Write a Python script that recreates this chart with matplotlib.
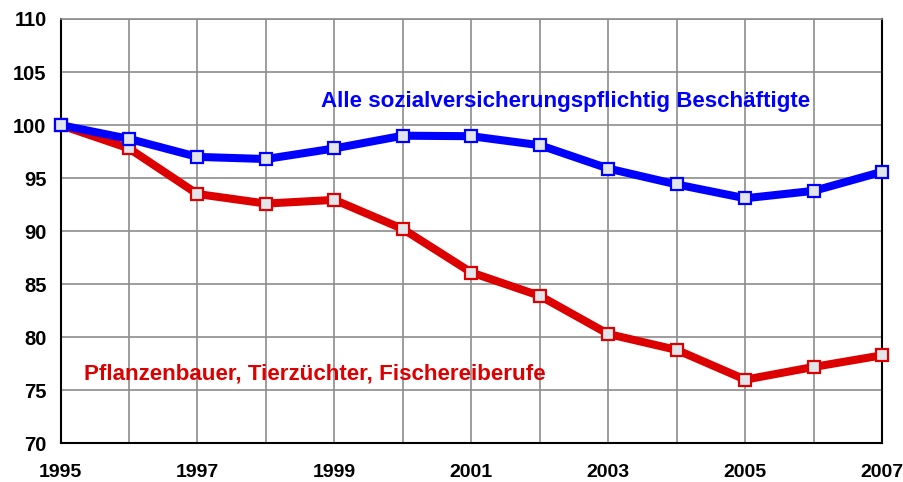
import matplotlib
matplotlib.use("Agg")
import matplotlib.pyplot as plt

years = [1995, 1996, 1997, 1998, 1999, 2000, 2001, 2002, 2003, 2004, 2005, 2006, 2007]
alle = [100.0, 98.7, 97.0, 96.8, 97.8, 99.0, 98.95, 98.1, 95.9, 94.4, 93.1, 93.8, 95.6]
pflanzen = [100.0, 97.8, 93.5, 92.6, 92.95, 90.2, 86.1, 83.9, 80.3, 78.8, 76.0, 77.2, 78.3]
label_alle = "Alle sozialversicherungspflichtig Beschäftigte"
label_pfl = "Pflanzenbauer, Tierzüchter, Fischereiberufe"
xticks_major = [1995, 1997, 1999, 2001, 2003, 2005, 2007]
xticks_minor = [1996, 1998, 2000, 2002, 2004, 2006]
yticks = [70, 75, 80, 85, 90, 95, 100, 105, 110]

plt.rcParams['font.family'] = ['Liberation Sans', 'DejaVu Sans']

fig = plt.figure(figsize=(9.04, 4.82), dpi=100)
ax = fig.add_axes([60.5/904, 1 - 443.3/482, (882.3-60.5)/904, (443.3-19)/482])

blue = '#0000ff'
red = '#dd0000'
face = '#e2e5ea'

ax.plot(years, pflanzen, color=red, lw=5.8, marker='s', ms=8, mfc=face, mec=red, mew=1.6,
        solid_joinstyle='miter', zorder=3, clip_on=False)
ax.plot(years, alle, color=blue, lw=5.8, marker='s', ms=8, mfc=face, mec=blue, mew=1.6,
        solid_joinstyle='miter', zorder=4, clip_on=False)

ax.set_xlim(1995, 2007)
ax.set_ylim(70, 110)
ax.set_xticks(xticks_major)
ax.set_xticks(xticks_minor, minor=True)
ax.set_yticks(yticks)
ax.set_xticklabels([str(y) for y in xticks_major], fontsize=14, fontweight='bold')
ax.set_yticklabels([str(y) for y in yticks], fontsize=14.5, fontweight='bold')
ax.tick_params(axis='both', which='both', length=0)
ax.tick_params(axis='x', pad=15)
ax.tick_params(axis='y', pad=10)
ax.grid(True, which='both', color='#8c8c8c', lw=1.2)
ax.set_axisbelow(True)

for s in ['left', 'bottom', 'right']:
    ax.spines[s].set_color('black')
    ax.spines[s].set_linewidth(1.5)
ax.spines['top'].set_color('#8c8c8c')
ax.spines['top'].set_linewidth(1.2)

ax.text(1998.8, 102.2, label_alle, color=blue, fontsize=16.1, fontweight='bold', ha='left', va='center')
ax.text(1995.34, 76.5, label_pfl, color=red, fontsize=16.1, fontweight='bold', ha='left', va='center')

fig.savefig('out.png', dpi=100)
